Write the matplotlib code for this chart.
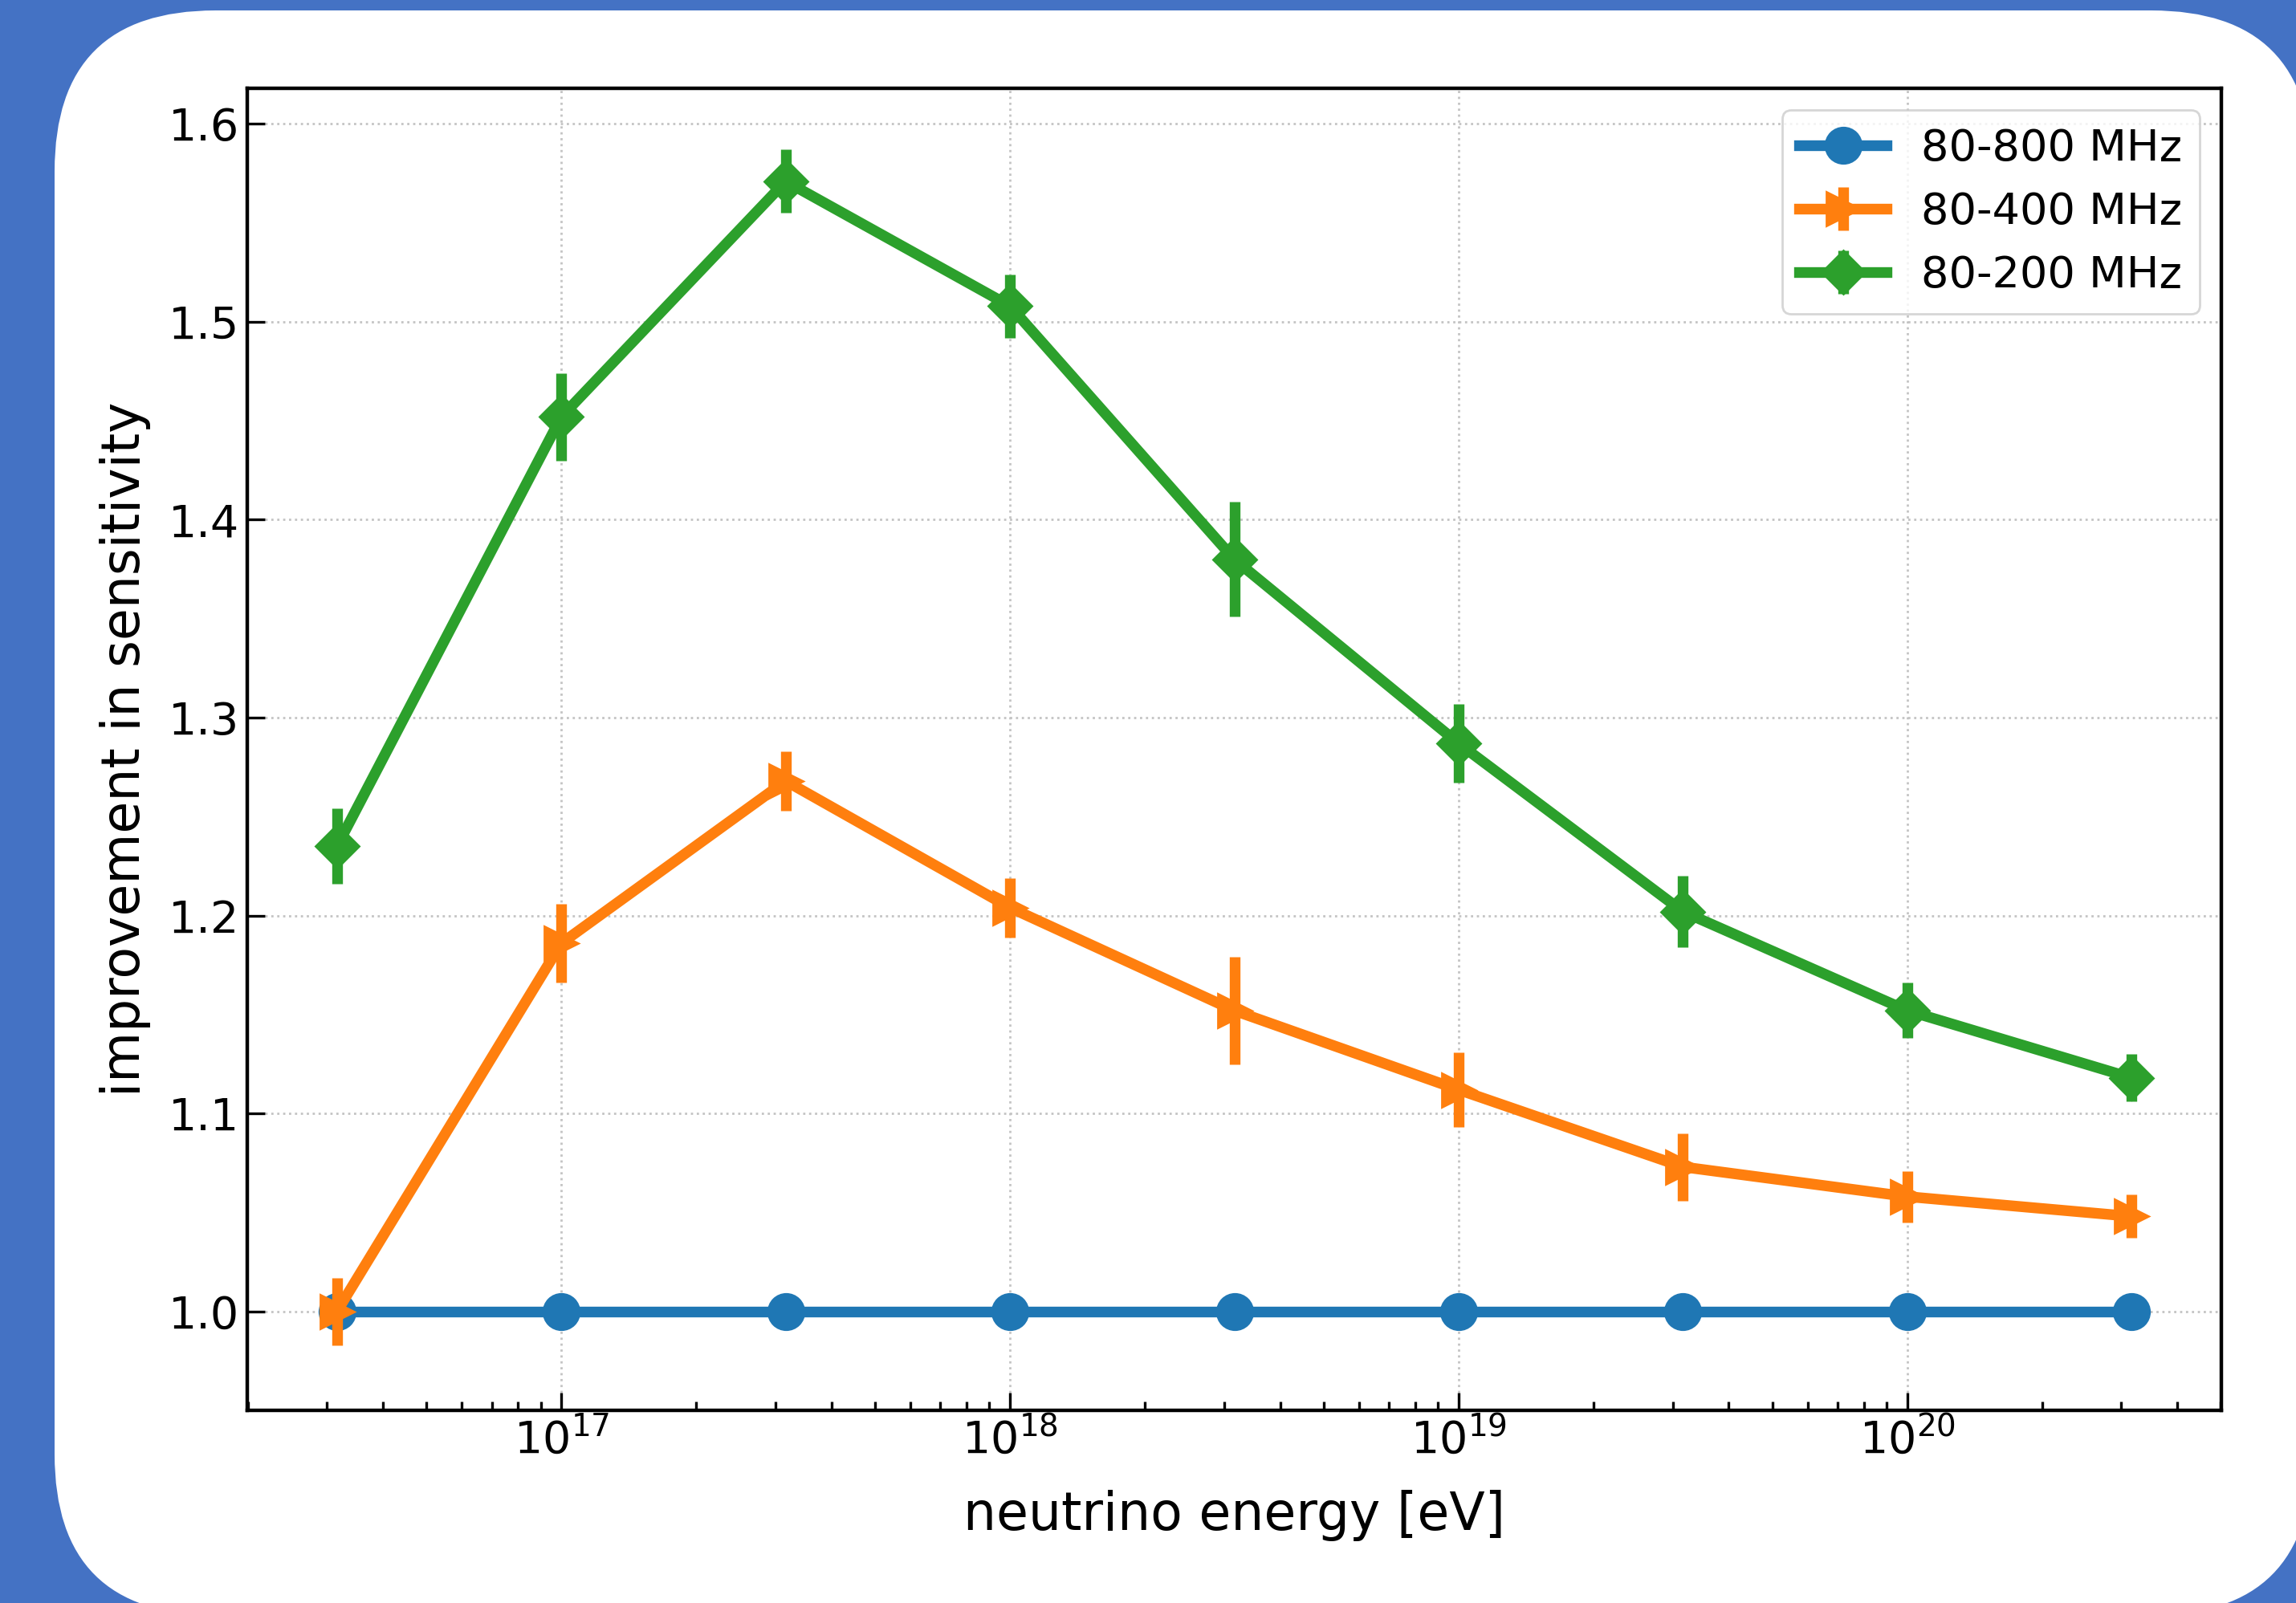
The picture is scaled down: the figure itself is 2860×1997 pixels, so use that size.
import numpy as np
import matplotlib
matplotlib.use("Agg")
import matplotlib.pyplot as plt
from matplotlib.patches import FancyBboxPatch
from matplotlib.transforms import IdentityTransform

# data
energy = 10 ** np.array([16.5, 17.0, 17.5, 18.0, 18.5, 19.0, 19.5, 20.0, 20.5])

band_800 = [1.0, 1.0, 1.0, 1.0, 1.0, 1.0, 1.0, 1.0, 1.0]

band_400 = [1.000, 1.186, 1.268, 1.204, 1.152, 1.112, 1.073, 1.058, 1.048]
band_400_err = [0.017, 0.020, 0.015, 0.015, 0.027, 0.019, 0.017, 0.013, 0.011]

band_200 = [1.235, 1.452, 1.571, 1.508, 1.380, 1.287, 1.202, 1.152, 1.118]
band_200_err = [0.019, 0.022, 0.016, 0.016, 0.029, 0.020, 0.018, 0.014, 0.012]

labels = ['80-800 MHz', '80-400 MHz', '80-200 MHz']

W, H, DPI = 2860, 1997, 200
fig = plt.figure(figsize=(W / DPI, H / DPI), dpi=DPI)
fig.patch.set_facecolor('#4472C4')

# white rounded card behind the plot
card = FancyBboxPatch((68, -15), 2812, 1999,
                      boxstyle="round,pad=0,rounding_size=200",
                      transform=IdentityTransform(), facecolor='white',
                      edgecolor='none', zorder=-1)
fig.patches.append(card)

ax = fig.add_axes([308 / W, 1 - 1757 / H, (2767 - 308) / W, (1757 - 110) / H])

lw = 4.8
ax.plot(energy, band_800, marker='o', ms=16, lw=lw, color='#1f77b4', label=labels[0])
ax.errorbar(energy, band_400, yerr=band_400_err, marker='>', ms=15, lw=lw,
            color='#ff7f0e', label=labels[1])
ax.errorbar(energy, band_200, yerr=band_200_err, marker='D', ms=13.5, lw=lw,
            color='#2ca02c', label=labels[2])

ax.set_xscale('log')
ax.set_ylim(0.95, 1.618)
ax.set_yticks([1.0, 1.1, 1.2, 1.3, 1.4, 1.5, 1.6])

ax.grid(True, which='major', linestyle=':', color='#c4c4c4', lw=1.0)
ax.tick_params(which='both', direction='in', labelsize=20, width=1.2)
ax.tick_params(which='major', length=8)
ax.tick_params(which='minor', length=4)
for s in ax.spines.values():
    s.set_linewidth(1.6)

ax.set_xlabel('neutrino energy [eV]', fontsize=23.3, labelpad=12)
ax.set_ylabel('improvement in sensitivity', fontsize=23.3, labelpad=8)

ax.legend(loc='upper right', fontsize=19.5)

fig.savefig('out.png', dpi=DPI, facecolor=fig.get_facecolor())
